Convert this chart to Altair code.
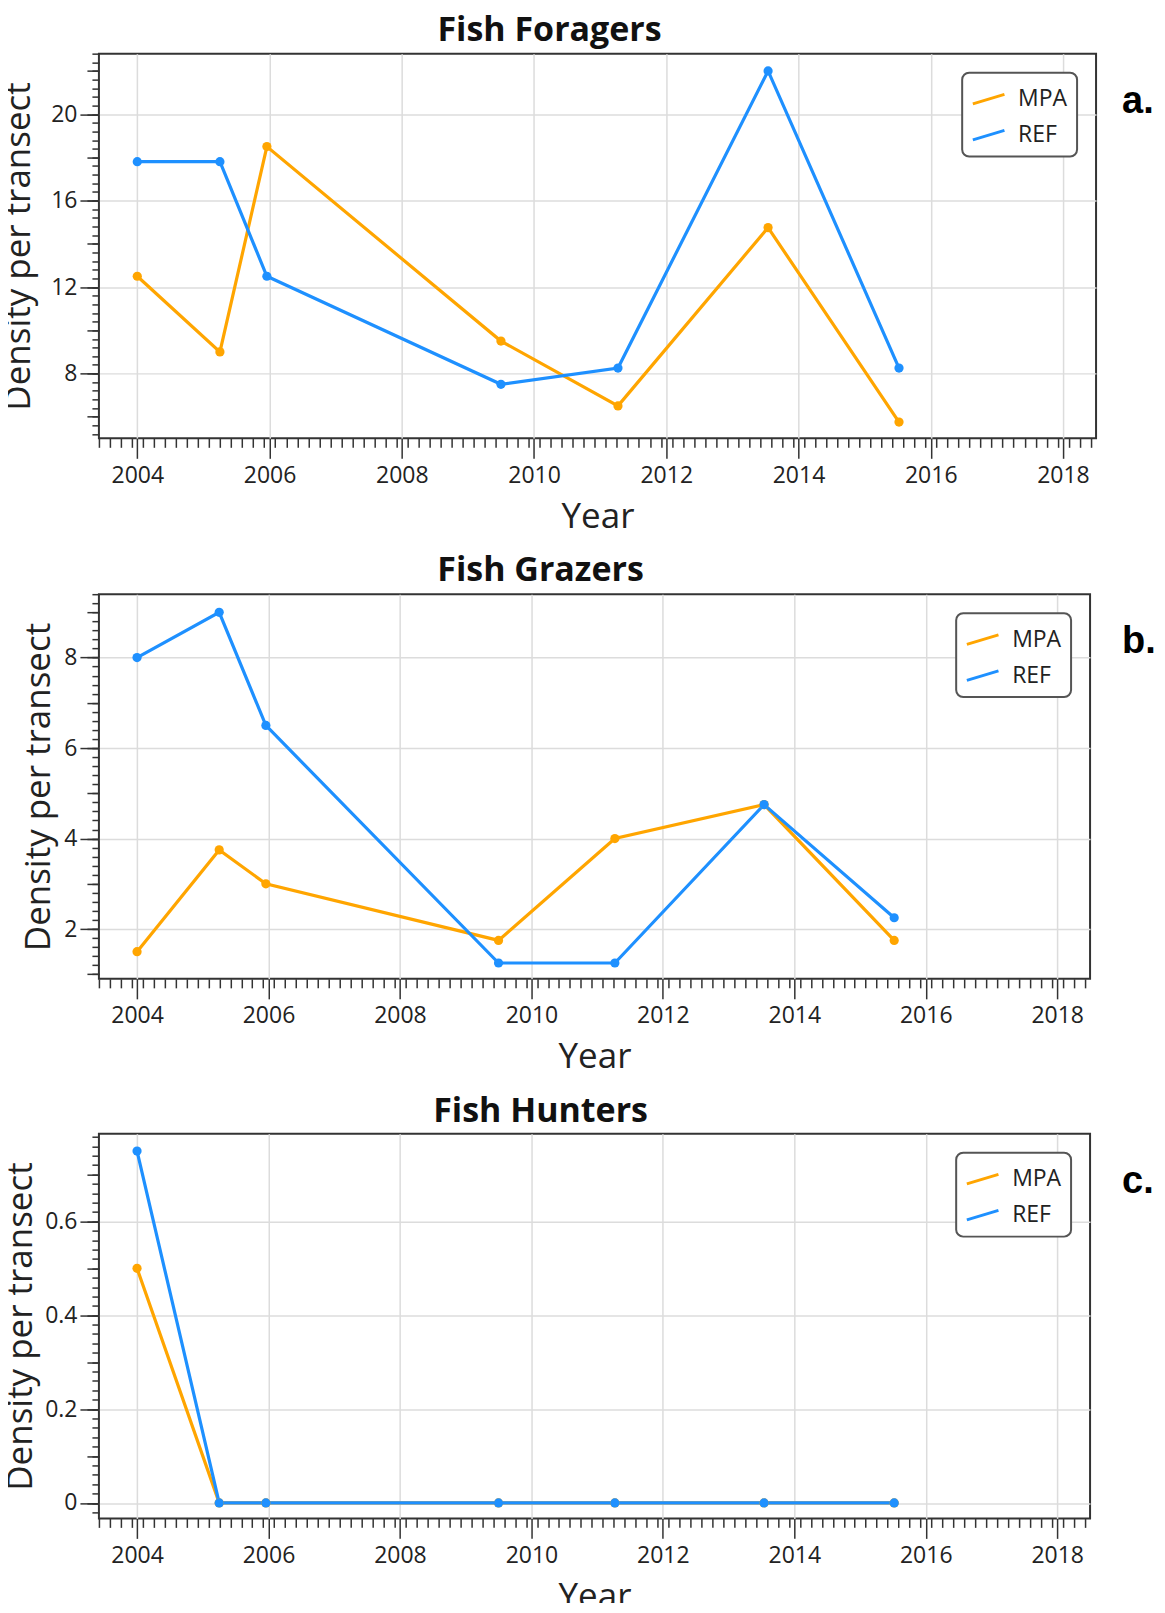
import altair as alt
import numpy as np
import pandas as pd

# ---------------- data ----------------
YEARS = [2004.0, 2005.25, 2005.96, 2009.5, 2011.27, 2013.54, 2015.52]
SITES = ["MPA", "REF"]
COLORS = ["#FFA500", "#1E90FF"]

FORAGERS_MPA = [12.5, 9.0, 18.5, 9.5, 6.5, 14.75, 5.75]
FORAGERS_REF = [17.8, 17.8, 12.5, 7.5, 8.25, 22.0, 8.25]
GRAZERS_MPA = [1.5, 3.75, 3.0, 1.75, 4.0, 4.75, 1.75]
GRAZERS_REF = [8.0, 9.0, 6.5, 1.25, 1.25, 4.75, 2.25]
HUNTERS_MPA = [0.5, 0.0, 0.0, 0.0, 0.0, 0.0, 0.0]
HUNTERS_REF = [0.75, 0.0, 0.0, 0.0, 0.0, 0.0, 0.0]

TITLES = ["Fish Foragers", "Fish Grazers", "Fish Hunters"]
PANEL_LABELS = ["a.", "b.", "c."]
X_TICKS = [2004, 2006, 2008, 2010, 2012, 2014, 2016, 2018]
Y_TICKS_A = [8, 12, 16, 20]
Y_TICKS_B = [2, 4, 6, 8]
Y_TICKS_C = [0, 0.2, 0.4, 0.6]

X_DOMAIN = [2003.42, 2018.5]


def steps(lo, hi, step):
    k0 = int(np.ceil(lo / step - 1e-9))
    k1 = int(np.floor(hi / step + 1e-9))
    return [round(k * step, 6) for k in range(k0, k1 + 1)]


X_MINOR = [round(X_DOMAIN[0] + k / 6.0, 4) for k in range(int((X_DOMAIN[1] - X_DOMAIN[0]) * 6) + 1)]


def panel(title, label, mpa, ref, y_domain, y_major, mid_step, minor_step,
          width, title_dx, y_title_pad, label_dx):
    df = pd.DataFrame({
        "year": YEARS + YEARS,
        "value": mpa + ref,
        "site": ["MPA"] * len(YEARS) + ["REF"] * len(YEARS),
    })
    xs = alt.Scale(domain=X_DOMAIN, nice=False, zero=False)
    ys = alt.Scale(domain=y_domain, nice=False, zero=False)
    cscale = alt.Scale(domain=SITES, range=COLORS)
    base = alt.Chart(df)

    line = base.mark_line(strokeWidth=3.2).encode(
        x=alt.X("year:Q", scale=xs,
                axis=alt.Axis(orient="bottom", values=X_TICKS, format="d", title="Year",
                              tickSize=20, grid=True, labelPadding=6, titlePadding=12)),
        y=alt.Y("value:Q", scale=ys,
                axis=alt.Axis(orient="left", values=y_major, format="~g",
                              title="Density per transect", tickSize=19, grid=True,
                              labelPadding=3, titlePadding=y_title_pad)),
        color=alt.Color("site:N", scale=cscale,
                        legend=alt.Legend(title=None, orient="top-right", offset=19,
                                          symbolType="M-1,0.3L1,-0.3", symbolSize=1000,
                                          symbolStrokeWidth=3, labelFont="Open Sans",
                                          labelFontSize=23, labelColor="#222",
                                          labelOffset=12, rowPadding=6, padding=9,
                                          strokeColor="#555", fillColor="white",
                                          cornerRadius=7)),
    )
    pts = base.mark_circle(size=85, opacity=1).encode(
        x=alt.X("year:Q", scale=xs,
                axis=alt.Axis(orient="bottom", values=X_MINOR, labels=False, tickSize=9,
                              grid=False, title=None)),
        y=alt.Y("value:Q", scale=ys,
                axis=alt.Axis(orient="left", values=steps(y_domain[0], y_domain[1], minor_step),
                              labels=False, tickSize=7, grid=False, title=None)),
        color=alt.Color("site:N", scale=cscale),
    )
    mid = base.mark_line(opacity=0).encode(
        x=alt.X("year:Q", scale=xs, axis=None),
        y=alt.Y("value:Q", scale=ys,
                axis=alt.Axis(orient="left", values=steps(y_domain[0], y_domain[1], mid_step),
                              labels=False, tickSize=12, grid=False, title=None)),
    )
    lab = alt.Chart(pd.DataFrame({"label": [label]})).mark_text(
        font="Liberation Sans", fontWeight="bold", fontSize=38, color="#000",
        align="left", baseline="middle",
    ).encode(text="label:N", x=alt.value(width + label_dx), y=alt.value(48))

    layered = alt.layer(line, pts, mid, lab).resolve_axis(
        x="independent", y="independent"
    ).properties(
        width=width, height=385,
        title=alt.Title(title, anchor="middle", frame="group", dx=title_dx, offset=5),
    )
    return alt.hconcat(layered).resolve_scale(color="independent").resolve_legend(
        color="independent"
    )


pa = panel(TITLES[0], PANEL_LABELS[0], FORAGERS_MPA, FORAGERS_REF, [5.0, 22.8], Y_TICKS_A,
           2, 0.4, 998, -48, 14, 26)
pb = panel(TITLES[1], PANEL_LABELS[1], GRAZERS_MPA, GRAZERS_REF, [0.9, 9.4], Y_TICKS_B,
           1, 0.2, 992, -54, 7, 32)
pc = panel(TITLES[2], PANEL_LABELS[2], HUNTERS_MPA, HUNTERS_REF, [-0.033, 0.787], Y_TICKS_C,
           0.1, 0.02, 992, -54, 6, 32)

chart = alt.vconcat(pa, pb, pc, spacing=18).resolve_scale(
    color="independent"
).resolve_legend(
    color="independent"
).properties(
    padding={"left": -8, "top": 4, "right": 0, "bottom": -13}
).configure_view(
    stroke="#333", strokeWidth=2
).configure_axis(
    domain=False, tickColor="#333", tickWidth=1.5,
    gridColor="#dcdcdc", gridWidth=1.5,
    labelFont="Open Sans", labelFontSize=23, labelColor="#222",
    titleFont="Open Sans", titleFontSize=35, titleFontWeight="normal", titleColor="#222",
).configure_title(
    font="Open Sans", fontSize=34, fontWeight="bold", color="#111"
).configure_legend(
    strokeWidth=2
)

chart.save("out.html", embed_options={"renderer": "svg", "actions": False})
